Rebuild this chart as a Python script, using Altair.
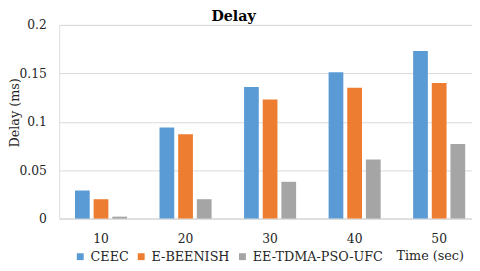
import altair as alt
import pandas as pd

chart_title = ["Delay"]
times = ["10", "20", "30", "40", "50"]
series = ["CEEC", "E-BEENISH", "EE-TDMA-PSO-UFC"]
ceec = [0.029, 0.094, 0.136, 0.151, 0.173]
ebeenish = [0.020, 0.087, 0.123, 0.135, 0.140]
eetdma = [0.002, 0.020, 0.038, 0.061, 0.077]
colors = ["#5B9BD5", "#ED7D31", "#A5A5A5"]

rows = []
for name, vals in zip(series, [ceec, ebeenish, eetdma]):
    for t, v in zip(times, vals):
        rows.append({"Time": t, "Series": name, "Delay": v})
df = pd.DataFrame(rows)

FONT = "DejaVu Serif"
TXT = "#262626"

bars = alt.Chart(df).mark_bar().encode(
    x=alt.X("Time:N", sort=times,
            scale=alt.Scale(paddingInner=0.384, paddingOuter=0.134, align=0.7),
            axis=alt.Axis(title="Time (sec)", labelAngle=0, ticks=False,
                          labelPadding=14, labelFontSize=12.5, labelFont=FONT,
                          labelColor=TXT, domainColor="#D9D9D9",
                          titleFont=FONT, titleFontSize=13, titleFontWeight="normal",
                          titleColor=TXT,
                          titleX=377, titleY=42, titleAlign="center",
                          titleBaseline="alphabetic")),
    xOffset=alt.XOffset("Series:N", sort=series,
                        scale=alt.Scale(paddingInner=0.21, paddingOuter=0)),
    y=alt.Y("Delay:Q",
            scale=alt.Scale(domain=[0, 0.2], nice=False),
            axis=alt.Axis(title="Delay (ms)", values=[0, 0.05, 0.1, 0.15, 0.2],
                          format="~g", ticks=False, domain=False,
                          labelPadding=13, labelFontSize=12.5, labelFont=FONT,
                          labelColor=TXT, gridColor="#D9D9D9",
                          titleFont=FONT, titleFontSize=13, titleFontWeight="normal",
                          titleColor=TXT, titleX=-45, titleY=89,
                          titleAlign="center", titleBaseline="middle")),
    color=alt.Color("Series:N", sort=series,
                    scale=alt.Scale(domain=series, range=colors),
                    legend=alt.Legend(title=None, orient="none", direction="horizontal",
                                      legendX=15, legendY=229,
                                      symbolType="square", symbolSize=49,
                                      symbolStrokeWidth=0, labelFont=FONT,
                                      labelFontSize=13, labelColor=TXT,
                                      labelOffset=4, columnPadding=6,
                                      padding=0)),
)

title_text = alt.Chart(pd.DataFrame({"label": chart_title})).mark_text(
    font=FONT, fontSize=14.5, fontWeight="bold", color="#000000",
    align="center", baseline="alphabetic"
).encode(
    text="label:N",
    x=alt.value(177.5),
    y=alt.value(-4),
)

chart = alt.layer(bars, title_text).properties(
    width=420,
    height=197,
    autosize=alt.AutoSizeParams(type="none"),
    padding={"left": 52, "top": 15, "right": 0, "bottom": 45},
).configure_view(stroke=None).configure_axis(grid=True).configure(font=FONT)

chart.save("out.html", embed_options={"renderer": "svg", "actions": False})
